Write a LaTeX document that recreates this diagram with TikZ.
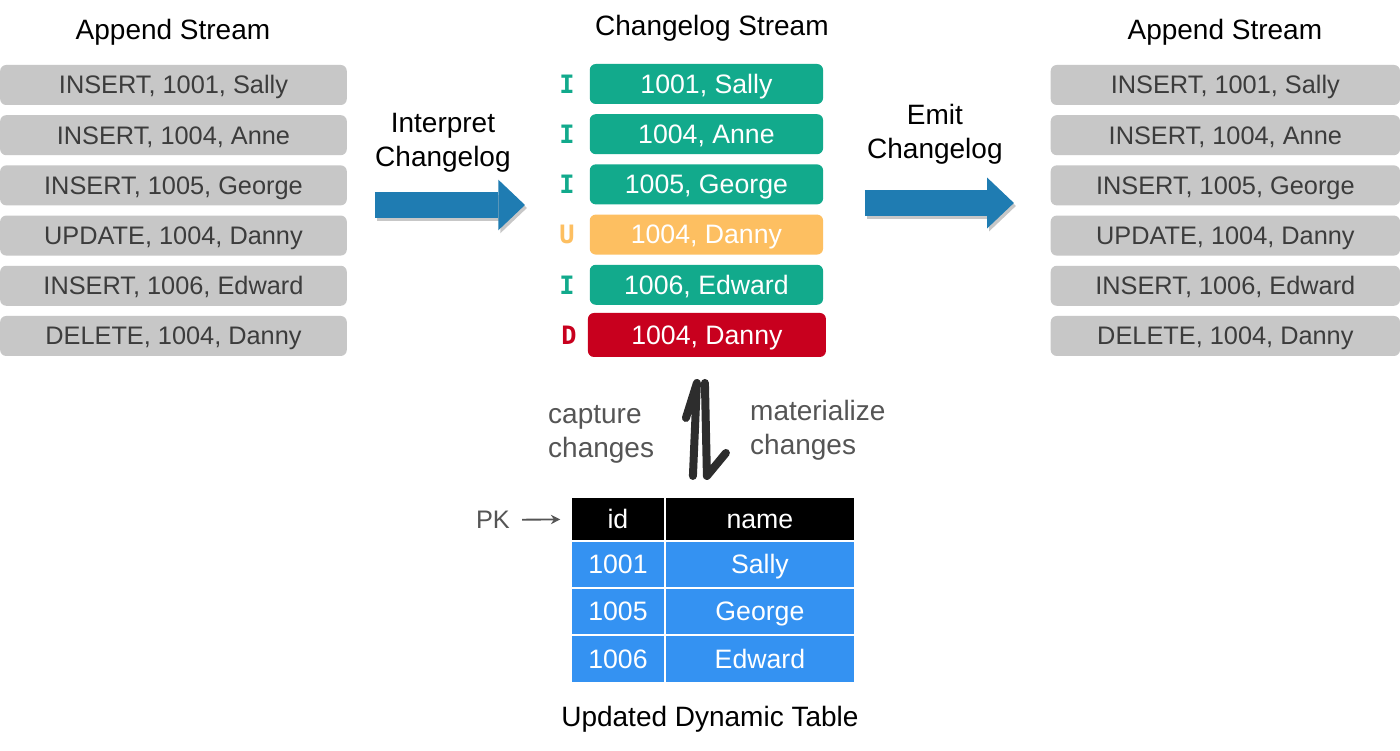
\documentclass[tikz,border=0pt]{standalone}
\usepackage{fontspec}
\setmainfont{Liberation Sans}
\setmonofont{DejaVu Sans Mono}
\usetikzlibrary{arrows.meta,positioning}

\definecolor{rowgray}{RGB}{199,199,199}
\definecolor{rowtext}{RGB}{60,60,60}
\definecolor{insteal}{RGB}{18,170,140}
\definecolor{updorange}{RGB}{253,191,97}
\definecolor{delred}{RGB}{200,0,30}
\definecolor{flowblue}{RGB}{31,124,178}
\definecolor{tblblue}{RGB}{52,146,242}
\definecolor{notegray}{RGB}{85,85,85}
\definecolor{harpgray}{RGB}{45,45,45}

\begin{document}
\begin{tikzpicture}[x=0.75pt, y=-0.75pt, >=Stealth,
  streamtitle/.style={font=\fontsize{21}{25.5}\selectfont, align=center},
  rowbox/.style={fill=rowgray, text=rowtext, rounded corners=4.5pt, minimum width=260pt, minimum height=30pt, inner sep=0pt, text height=16pt, text depth=2.6pt, font=\fontsize{19}{19}\selectfont},
  chgbox/.style={text=white, rounded corners=4.5pt, minimum width=175pt, minimum height=30pt, inner sep=0pt, text height=16.6pt, text depth=2.6pt, font=\fontsize{20}{20}\selectfont},
  oplabel/.style={font=\ttfamily\bfseries\fontsize{19}{19}\selectfont, inner sep=0pt},
  flow/.style={line width=19.5pt, flowblue, -{Triangle[length=20pt, width=38pt, line width=0pt]}},
  flowshadow/.style={line width=19.5pt, black, opacity=0.22, -{Triangle[length=20pt, width=38pt, line width=0pt]}},
  harp/.style={line width=6pt, harpgray, line cap=round, line join=round},
  note/.style={text=notegray, font=\fontsize{21}{25.5}\selectfont, align=left, inner sep=0pt},
  cell/.style={draw=white, line width=1.2pt, text=white, inner sep=0pt, outer sep=0pt, minimum height=35.25pt, text height=16.6pt, text depth=2.6pt, font=\fontsize{20}{20}\selectfont},
]
  % Nen
  \fill[white] (0,0) rectangle (1400,751);

  % Hai dong append (trai, phai)
  \node[streamtitle] (lt) at (173,32) {Append Stream};
  \node[streamtitle] (rt) at (1225,32) {Append Stream};
  \foreach \i/\txt in {1/{INSERT, 1001, Sally},2/{INSERT, 1004, Anne},3/{INSERT, 1005, George},4/{UPDATE, 1004, Danny},5/{INSERT, 1006, Edward},6/{DELETE, 1004, Danny}}{
    \node[rowbox] (l\i) at (173.5,{85+50.2*(\i-1)}) {\txt};
    \node[rowbox, minimum width=262pt] (r\i) at (1225.5,{85+50.2*(\i-1)}) {\txt};
  }

  % Dong changelog
  \node[streamtitle] (ct) at (712,28) {Changelog Stream};
  \foreach \i/\op/\col/\txt in {1/I/insteal/{1001, Sally},2/I/insteal/{1004, Anne},3/I/insteal/{1005, George},4/U/updorange/{1004, Danny},5/I/insteal/{1006, Edward}}{
    \node[chgbox, fill=\col] (c\i) at (706.5,{84+50.2*(\i-1)}) {\txt};
    \node[oplabel, text=\col, left=11pt of c\i] (op\i) {\op};
  }
  \node[chgbox, fill=delred, minimum width=178.5pt, minimum height=33pt] (c6) at (707,335) {1004, Danny};
  \node[oplabel, text=delred, left=8pt of c6] (op6) {D};

  % Mui ten xanh
  \node[streamtitle] (interp) at (443,143) {Interpret\\Changelog};
  \coordinate (ia) at (375,205);
  \coordinate (ib) at (525,205);
  \draw[flowshadow] ([shift={(2,3)}]ia) -- ([shift={(2,3)}]ib);
  \draw[flow] (ia) -- (ib);

  \node[streamtitle] (emit) at (935,134) {Emit\\Changelog};
  \coordinate (ea) at (865,203);
  \coordinate (eb) at (1014,203);
  \draw[flowshadow] ([shift={(2,3)}]ea) -- ([shift={(2,3)}]eb);
  \draw[flow] (ea) -- (eb);

  % Mui ten hai chieu
  \coordinate (up0) at (693,476);
  \coordinate (up1) at (697,383);
  \draw[harp] (up0) -- (up1) -- ++(-11,35);
  \coordinate (dn0) at (705,383);
  \coordinate (dn1) at (707,476);
  \draw[harp] (dn0) -- (dn1) -- ++(19,-23);
  \node[note, anchor=west] (cap) at (548,434) {capture\\changes};
  \node[note, anchor=west] (mat) at (750,430) {materialize\\changes};

  % Bang dong
  \node[cell, fill=black, minimum width=70.5pt, minimum height=33pt] (hid) at (618,519) {id};
  \node[cell, fill=black, minimum width=142.5pt, minimum height=33pt, right=0pt of hid] (hname) {name};
  \foreach \id/\nm [count=\i] in {1001/Sally,1005/George,1006/Edward}{
    \node[cell, fill=tblblue, minimum width=70.5pt] (id\i) at (618,{564.5+47.2*(\i-1)}) {\id};
    \node[cell, fill=tblblue, minimum width=142.5pt, right=0pt of id\i] (nm\i) {\nm};
  }

  % Nhan PK
  \node[text=notegray, font=\fontsize{19}{19}\selectfont, inner sep=0pt] (pk) at (493,520) {PK};
  \draw[-{Stealth[length=7pt, width=7pt]}, notegray, line width=1.4pt, shorten <=9pt, shorten >=8pt] (pk) -- (hid);

  \node[streamtitle] (upd) at (710,719) {Updated Dynamic Table};
\end{tikzpicture}
\end{document}
